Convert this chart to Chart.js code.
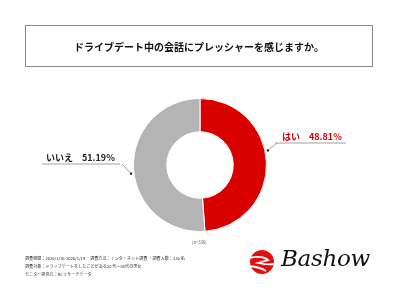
<!DOCTYPE html>
<html lang="ja">
<head>
<meta charset="utf-8">
<script src="https://cdn.jsdelivr.net/npm/chart.js@4"></script>
<style>
  html, body { margin: 0; padding: 0; background: #fff; }
  #wrap { position: relative; width: 400px; height: 300px; overflow: hidden; font-family: "Noto Sans CJK JP", sans-serif; }
  #chart { position: absolute; left: 0; top: 0; }
  #titleBox {
    position: absolute; left: 25px; top: 25px; width: 348px; height: 42px;
    border: 1px solid #8a8a8a; box-sizing: border-box;
    display: flex; align-items: center; justify-content: center;
    font-size: 10px; font-weight: bold; color: #111;
  }
  #nNote { position: absolute; left: 192px; top: 239px; font-size: 4.2px; color: #555; }
  #footer { position: absolute; left: 25px; top: 255px; font-size: 4.1px; line-height: 7.8px; color: #333; white-space: nowrap; }
  #logoText {
    position: absolute; left: 281px; top: 245px; font-family: "DejaVu Serif", serif;
    font-style: italic; font-size: 23px; color: #111; letter-spacing: -0.3px;
  }
</style>
</head>
<body>
<div id="wrap">
  <canvas id="chart" width="400" height="300"></canvas>
  <div id="titleBox">ドライブデート中の会話にプレッシャーを感じますか。</div>
  <div id="nNote">(n=336)</div>
  <div id="footer">
    調査期間：2026/1/16-2026/1/19 ・調査方法：インターネット調査 ・調査人数：336 名<br>
    調査対象：ドライブデートをしたことがある20 代〜40代の男女<br>
    モニター提供元：RCリサーチデータ
  </div>
  <div id="logoText">Bashow</div>
</div>
<script>
// データ
const categories = ['はい', 'いいえ'];
const values = [48.81, 51.19];
const colors = ['#d90000', '#b4b4b4'];
const labelColors = ['#d90000', '#222222'];

// 吹き出しラベル + ロゴマーク
const calloutPlugin = {
  id: 'callout',
  afterDraw(chart) {
    const ctx = chart.ctx;
    const meta = chart.getDatasetMeta(0);
    // ラベルの位置 (円の中心からのオフセット)
    const layout = [
      { angleShift: -10, textX: 80, textY: -28, lineStart: 75, lineEnd: 146 },
      { angleShift: -5, textX: -156, textY: -7, lineStart: -158, lineEnd: -80 }
    ];
    meta.data.forEach((arc, i) => {
      const p = arc.getProps(['x', 'y', 'startAngle', 'endAngle', 'outerRadius']);
      const mid = (p.startAngle + p.endAngle) / 2 + layout[i].angleShift * Math.PI / 180;
      const r = p.outerRadius + 3;
      const ax = p.x + Math.cos(mid) * r;
      const ay = p.y + Math.sin(mid) * r;
      const uy = p.y + layout[i].textY + 6;
      const lx0 = p.x + layout[i].lineStart;
      const lx1 = p.x + layout[i].lineEnd;
      const joinX = i === 0 ? lx0 + 2 : lx1 + 2;

      ctx.save();
      ctx.strokeStyle = '#888';
      ctx.lineWidth = 0.8;
      ctx.beginPath();
      ctx.moveTo(lx0, uy);
      ctx.lineTo(lx1, uy);
      ctx.moveTo(joinX, uy);
      ctx.lineTo(ax, ay);
      ctx.stroke();
      ctx.fillStyle = '#222';
      ctx.beginPath();
      ctx.arc(ax, ay, 1.2, 0, Math.PI * 2);
      ctx.fill();

      ctx.fillStyle = labelColors[i];
      ctx.font = 'bold 9px "Noto Sans CJK JP"';
      ctx.textAlign = 'left';
      ctx.textBaseline = 'middle';
      ctx.fillText(categories[i] + '　' + values[i].toFixed(2) + '%', p.x + layout[i].textX + 2, p.y + layout[i].textY);
      ctx.restore();
    });

    // ロゴの赤い丸
    const cx = 262, cy = 262, rr = 12;
    ctx.save();
    ctx.fillStyle = '#e01010';
    ctx.beginPath();
    ctx.arc(cx, cy, rr, 0, Math.PI * 2);
    ctx.fill();
    ctx.strokeStyle = '#fff';
    ctx.lineWidth = 1.8;
    ctx.beginPath();
    ctx.moveTo(cx - 13, cy - 4);
    ctx.quadraticCurveTo(cx, cy - 7, cx + 6, cy - 2);
    ctx.lineTo(cx - 4, cy + 1);
    ctx.quadraticCurveTo(cx + 4, cy + 3, cx + 13, cy + 2);
    ctx.stroke();
    ctx.beginPath();
    ctx.moveTo(cx - 13, cy + 4);
    ctx.quadraticCurveTo(cx - 2, cy + 5, cx + 4, cy + 9);
    ctx.stroke();
    ctx.restore();
  }
};

const ctx = document.getElementById('chart').getContext('2d');
new Chart(ctx, {
  type: 'doughnut',
  data: {
    labels: categories,
    datasets: [{
      data: values,
      backgroundColor: colors,
      borderColor: '#ffffff',
      borderWidth: 1
    }]
  },
  options: {
    responsive: false,
    animation: false,
    cutout: '50%',
    layout: { padding: { top: 98, bottom: 68, left: 133, right: 133 } },
    plugins: {
      legend: { display: false },
      tooltip: { enabled: false },
      title: { display: false }
    }
  },
  plugins: [calloutPlugin]
});
</script>
</body>
</html>
